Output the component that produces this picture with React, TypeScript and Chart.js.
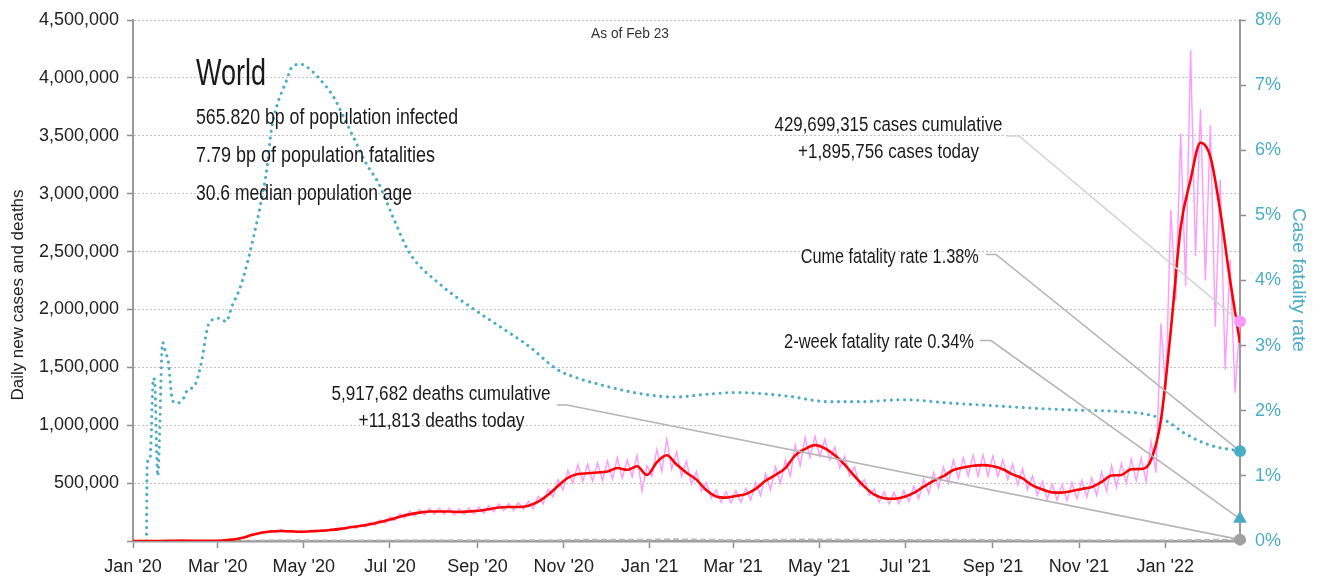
import React, { useEffect, useRef } from 'react';
import { Chart, registerables } from 'chart.js';

Chart.register(...registerables);

const FONT = '"Liberation Sans", Arial, sans-serif';
const TEAL = '#4bacc6';
const PINK = '#ff99ff';
const RED = '#ff0000';
const INK = '#1a1a1a';

const START_DATE = '2020-01-01';
const AS_OF_DATE = '2022-02-23';

const tickDates = ['2020-01-01', '2020-03-01', '2020-05-01', '2020-07-01', '2020-09-01', '2020-11-01', '2021-01-01', '2021-03-01', '2021-05-01', '2021-07-01', '2021-09-01', '2021-11-01', '2022-01-01'];
const tickLabels = ["Jan '20", "Mar '20", "May '20", "Jul '20", "Sep '20", "Nov '20", "Jan '21", "Mar '21", "May '21", "Jul '21", "Sep '21", "Nov '21", "Jan '22"];

// sampling steps (days) of the series below, counted from START_DATE
const WEEK_STEP = 7;
const HALF_WEEK_STEP = 3.5;

// 7-day average of new cases, thousands, weekly
const casesAvgWeeklyK = [
  0, 0, 0.1, 0.5, 2, 3, 2, 2, 2, 4,
  12, 25, 52, 72, 82, 86, 83, 80, 84, 88,
  95, 105, 118, 130, 145, 165, 185, 210, 230, 245,
  255, 255, 255, 250, 255, 262, 275, 290, 294, 294,
  305, 340, 400, 475, 545, 578, 585, 592, 600, 630,
  615, 645, 570, 680, 740, 660, 590, 530, 440, 385,
  375, 389, 405, 450, 520, 570, 630, 740, 795, 828,
  800, 740, 660, 560, 470, 400, 370, 365, 380, 415,
  470, 520, 560, 613, 635, 650, 655, 645, 620, 575,
  540, 480, 445, 420, 418, 432, 450, 466, 510, 565,
  570, 620, 622, 700, 1045, 1820, 2710, 3120, 3440, 3320,
  2850, 2250, 1710,
];

// daily new cases, thousands, twice a week (mid-week high / weekend low)
const casesDailyK = [
  0, 0, 0, 0, 0.2, 0.3, 0.6, 1, 2.5, 2,
  3.5, 3, 2.5, 1.5, 2, 1.5, 2.5, 2.5, 5, 6,
  14, 15, 30, 32, 58, 60, 80, 74, 92, 78,
  100, 76, 90, 74, 88, 76, 93, 80, 97, 83,
  105, 88, 115, 98, 130, 108, 142, 120, 160, 135,
  182, 155, 210, 178, 235, 198, 258, 215, 272, 228,
  282, 232, 282, 232, 284, 226, 278, 230, 284, 234,
  292, 240, 305, 252, 320, 262, 322, 266, 330, 272,
  345, 280, 385, 320, 450, 380, 530, 440, 610, 500,
  660, 515, 665, 515, 675, 525, 690, 535, 720, 540,
  700, 555, 740, 430, 650, 560, 790, 600, 880, 620,
  770, 560, 690, 490, 600, 430, 505, 370, 440, 335,
  425, 330, 435, 335, 455, 355, 510, 390, 580, 440,
  640, 500, 700, 560, 830, 650, 895, 720, 905, 730,
  880, 700, 810, 630, 730, 560, 640, 475, 530, 395,
  450, 335, 425, 320, 420, 320, 435, 340, 475, 365,
  535, 410, 590, 460, 640, 500, 700, 540, 720, 560,
  740, 560, 745, 560, 735, 555, 705, 530, 665, 485,
  625, 445, 560, 395, 515, 360, 490, 355, 485, 350,
  505, 365, 525, 380, 545, 395, 595, 430, 650, 465,
  670, 495, 710, 520, 720, 510, 860, 590, 1880, 1300,
  2860, 2080, 3520, 2200, 4240, 2460, 3730, 2250, 3590, 1850,
  3120, 1480, 2430, 1280, 1896,
];

// 7-day average of deaths, thousands, weekly
const deathsAvgWeeklyK = [
  0, 0, 0, 0.03, 0.05, 0.1, 0.1, 0.1, 0.1, 0.1,
  0.2, 0.6, 1.8, 4, 6, 7, 6.5, 5.8, 5, 4.5,
  4.5, 4.3, 4.4, 4.8, 5, 4.9, 5, 5.4, 5.7, 5.9,
  6, 5.9, 5.7, 5.6, 5.4, 5.4, 5.4, 5.3, 5.4, 5.3,
  5.8, 6.2, 6.6, 7.4, 8.4, 9.5, 10.5, 10.8, 11.2, 11.5,
  11.6, 11.6, 11, 12.7, 14, 14.3, 13.4, 12, 11, 9.8,
  9, 8.7, 8.6, 9, 9.4, 10, 10.8, 12, 13, 13.5,
  12.8, 12, 11.5, 11, 10.5, 9.6, 8.6, 8, 7.8, 8,
  8.6, 9.2, 9.8, 10, 10, 10, 9.7, 9.2, 8.6, 8,
  7.5, 7.3, 7.2, 7, 7.2, 7.4, 7.3, 7.1, 7, 7,
  7, 6.9, 6.7, 6.5, 6.4, 6.5, 7.1, 8.2, 9.2, 10.2,
  10.9, 11.2, 11,
];

// case fatality rate (%), by day since START_DATE
const cfrDays = [5, 9.5, 10, 12, 14.5, 15.5, 17.5, 21, 23, 25, 28, 32, 36, 38, 44, 48, 54, 61, 66, 70, 76, 82, 86, 90, 95, 98, 102, 108, 113, 119, 126, 132, 142, 149, 157, 165, 174, 184, 196, 217, 242, 260, 281, 300, 315, 331, 348, 366, 384, 405, 426, 441, 465, 492, 516, 546, 577, 607, 637, 667, 697, 721, 733, 745, 763, 784];
const cfrPct = [0, 0, 1.2, 1.25, 2.5, 2.4, 1.0, 3.05, 2.9, 2.75, 2.15, 2.12, 2.2, 2.3, 2.4, 2.7, 3.35, 3.42, 3.37, 3.6, 3.9, 4.36, 4.73, 5.13, 5.74, 6.31, 6.69, 7.03, 7.29, 7.32, 7.23, 7.1, 6.82, 6.52, 6.16, 5.8, 5.49, 4.98, 4.42, 3.95, 3.55, 3.29, 2.98, 2.64, 2.5, 2.4, 2.31, 2.24, 2.21, 2.25, 2.28, 2.27, 2.22, 2.14, 2.14, 2.17, 2.12, 2.08, 2.04, 2.01, 1.99, 1.93, 1.83, 1.65, 1.47, 1.38];

const casesCumulative = 429699315;
const casesToday = 1895756;
const deathsCumulative = 5917682;
const deathsToday = 11813;
const cumeFatalityPct = 1.38;
const twoWeekFatalityPct = 0.34;
const infectedBp = '565.820';
const fatalitiesBp = '7.79';
const medianAge = '30.6';

const yLeftMax = 4500000;
const yLeftStep = 500000;
const yRightMax = 8;
const yRightStep = 1;

const dayOf = (s: string) => Math.round((Date.parse(s) - Date.parse(START_DATE)) / 86400000);
const LAST_DAY = dayOf(AS_OF_DATE);
const tickDays = tickDates.map(dayOf);
const fmt = (n: number) => n.toLocaleString('en-US');

function drawText(ctx: any, t: string, x: number, y: number, o: any) {
  const { size, width, align = 'left', color = INK, rotate = 0, baseline = 'alphabetic' } = o;
  ctx.save();
  ctx.font = `${size}px ${FONT}`;
  const w = ctx.measureText(t).width;
  const sx = width ? width / w : 1;
  ctx.translate(x, y);
  if (rotate) ctx.rotate(rotate);
  ctx.scale(sx, 1);
  ctx.fillStyle = color;
  ctx.textBaseline = baseline;
  ctx.textAlign = 'left';
  const off = align === 'left' ? 0 : align === 'center' ? -w / 2 : -w;
  ctx.fillText(t, off, 0);
  ctx.restore();
}

const RED_INDEX = 3;

const overlayPlugin = {
  id: 'overlay',
  afterDatasetDraw(chart: any, args: any) {
    if (args.index !== RED_INDEX) return;
    const ctx = chart.ctx;
    const xs = chart.scales.x;
    const ex = xs.getPixelForValue(LAST_DAY);
    const leaders = [
      { pts: [[1007, 136], [1019, 136]], axis: 'y', value: casesToday, color: '#d4d4d4' },
      { pts: [[986, 254.5], [996, 254.5]], axis: 'y1', value: cumeFatalityPct, color: '#b5b5b5' },
      { pts: [[980, 340.5], [991, 340.5]], axis: 'y1', value: twoWeekFatalityPct, color: '#b5b5b5' },
      { pts: [[557, 405], [567, 405]], axis: 'y', value: deathsToday, color: '#b5b5b5' },
    ];
    ctx.save();
    ctx.lineWidth = 1.6;
    for (const l of leaders) {
      const ey = chart.scales[l.axis].getPixelForValue(l.value);
      ctx.strokeStyle = l.color;
      ctx.beginPath();
      ctx.moveTo(l.pts[0][0], l.pts[0][1]);
      ctx.lineTo(l.pts[1][0], l.pts[1][1]);
      ctx.lineTo(ex, ey);
      ctx.stroke();
    }
    ctx.restore();
  },
  afterDraw(chart: any) {
    const ctx = chart.ctx;
    drawText(ctx, 'World', 196, 85, { size: 37, width: 70 });
    drawText(ctx, `${infectedBp} bp of population infected`, 196, 123.5, { size: 22, width: 262 });
    drawText(ctx, `${fatalitiesBp} bp of population fatalities`, 196, 162, { size: 22, width: 239 });
    drawText(ctx, `${medianAge} median population age`, 196, 200, { size: 22, width: 216 });
    drawText(ctx, 'As of Feb 23', 630, 37.5, { size: 15, width: 78, align: 'center', color: '#333' });
    drawText(ctx, `${fmt(casesCumulative)} cases cumulative`, 888.5, 130.5, { size: 20.5, width: 228, align: 'center' });
    drawText(ctx, `+${fmt(casesToday)} cases today`, 888.5, 158, { size: 20.5, width: 181, align: 'center' });
    drawText(ctx, `Cume fatality rate ${cumeFatalityPct.toFixed(2)}%`, 978.7, 262.5, { size: 20.5, width: 178, align: 'right' });
    drawText(ctx, `2-week fatality rate ${twoWeekFatalityPct.toFixed(2)}%`, 974, 348.3, { size: 20.5, width: 190, align: 'right' });
    drawText(ctx, `${fmt(deathsCumulative)} deaths cumulative`, 441, 399.5, { size: 20.5, width: 219, align: 'center' });
    drawText(ctx, `+${fmt(deathsToday)} deaths today`, 441.5, 426.5, { size: 20.5, width: 166, align: 'center' });
    drawText(ctx, 'Daily new cases and deaths', 18, 295, { size: 17, width: 211, align: 'center', rotate: -Math.PI / 2, baseline: 'middle', color: '#222' });
    drawText(ctx, 'Case fatality rate', 1298, 280, { size: 19, width: 144, align: 'center', rotate: Math.PI / 2, baseline: 'middle', color: TEAL });
  },
};

export default function App() {
  const ref = useRef<HTMLCanvasElement | null>(null);

  useEffect(() => {
    if (!ref.current) return;
    const pink = casesDailyK.map((v, i) => ({ x: i * HALF_WEEK_STEP, y: v * 1000 }));
    const red = casesAvgWeeklyK.map((v, i) => ({ x: i * WEEK_STEP, y: v * 1000 }));
    const deaths = deathsAvgWeeklyK.map((v, i) => ({ x: i * WEEK_STEP, y: v * 1000 }));
    const cfr = cfrDays.map((d, i) => ({ x: d, y: cfrPct[i] }));

    const tickFont = { family: FONT, size: 18 };

    const chart = new Chart(ref.current, {
      type: 'line',
      data: {
        datasets: [
          { data: pink, borderColor: PINK, borderWidth: 1.4, pointRadius: 0, tension: 0, yAxisID: 'y', order: 5 },
          { data: deaths, borderColor: '#b8b8b8', borderWidth: 2, borderDash: [6, 3], pointRadius: 0, yAxisID: 'y', order: 4 },
          { data: cfr, borderColor: TEAL, borderWidth: 3.1, borderDash: [0.01, 6.6], borderCapStyle: 'round', pointRadius: 0, cubicInterpolationMode: 'monotone', yAxisID: 'y1', order: 3 },
          { data: red, borderColor: RED, borderWidth: 2.6, pointRadius: 0, cubicInterpolationMode: 'monotone', yAxisID: 'y', order: 2 },
          { data: [{ x: LAST_DAY, y: casesToday }], showLine: false, pointRadius: 6, pointBackgroundColor: PINK, pointBorderWidth: 0, yAxisID: 'y', order: 0, clip: false },
          { data: [{ x: LAST_DAY, y: cumeFatalityPct }], showLine: false, pointRadius: 6, pointBackgroundColor: TEAL, pointBorderWidth: 0, yAxisID: 'y1', order: 0, clip: false },
          { data: [{ x: LAST_DAY, y: twoWeekFatalityPct }], showLine: false, pointStyle: 'triangle', pointRadius: 8, pointBackgroundColor: TEAL, pointBorderWidth: 0, yAxisID: 'y1', order: 0, clip: false },
          { data: [{ x: LAST_DAY, y: deathsToday }], showLine: false, pointRadius: 6, pointBackgroundColor: '#a0a0a0', pointBorderWidth: 0, yAxisID: 'y', order: 0, clip: false },
        ] as any,
      },
      options: {
        animation: false,
        responsive: false,
        devicePixelRatio: 1,
        layout: { padding: { top: 20, left: 0, right: 0, bottom: 0 } },
        plugins: { legend: { display: false }, tooltip: { enabled: false } },
        elements: { point: { radius: 0, hoverRadius: 0 } },
        events: [],
        scales: {
          x: {
            type: 'linear',
            position: 'bottom',
            min: 0,
            max: LAST_DAY,
            afterFit: (s: any) => { s.height = 41; },
            afterBuildTicks: (s: any) => { s.ticks = tickDays.map((v) => ({ value: v })); },
            ticks: {
              autoSkip: false,
              maxRotation: 0,
              padding: 8,
              color: '#222',
              font: tickFont,
              callback: (v: any) => { const i = tickDays.indexOf(Number(v)); return i >= 0 ? tickLabels[i] : ''; },
            },
            grid: { drawOnChartArea: false, drawTicks: true, tickLength: 7, tickColor: '#8c8c8c', tickWidth: 1.5 },
            border: { display: true, color: '#9a9a9a', width: 2.5 },
          },
          y: {
            type: 'linear',
            position: 'left',
            min: 0,
            max: yLeftMax,
            afterFit: (s: any) => { s.width = 133; },
            ticks: {
              stepSize: yLeftStep,
              padding: 8,
              color: '#222',
              font: tickFont,
              callback: (v: any) => (Number(v) === 0 ? '' : fmt(Number(v))),
            },
            grid: { color: '#c2c2c2', lineWidth: 1, drawTicks: true, tickLength: 6, tickColor: '#8c8c8c', tickWidth: 1.5, tickBorderDash: [] },
            border: { display: true, color: '#9a9a9a', width: 2, dash: [2, 2] },
          },
          y1: {
            type: 'linear',
            position: 'right',
            min: 0,
            max: yRightMax,
            afterFit: (s: any) => { s.width = 78; },
            ticks: {
              stepSize: yRightStep,
              padding: 9,
              color: TEAL,
              font: tickFont,
              callback: (v: any) => `${v}%`,
            },
            grid: { drawOnChartArea: false, drawTicks: true, tickLength: 6, tickColor: '#8c8c8c', tickWidth: 1.5 },
            border: { display: true, color: '#9a9a9a', width: 2 },
          },
        },
      } as any,
      plugins: [overlayPlugin],
    });
    return () => chart.destroy();
  }, []);

  return (
    <div style={{ position: 'absolute', left: 0, top: 0, width: 1318, height: 582, background: '#fff' }}>
      <canvas ref={ref} width={1318} height={582} style={{ display: 'block' }} />
    </div>
  );
}
